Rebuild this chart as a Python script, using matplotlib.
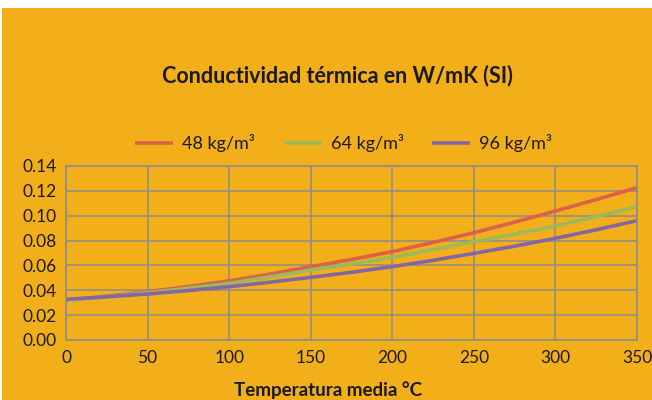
import matplotlib.pyplot as plt
from matplotlib.patches import Rectangle

# Thermal conductivity (W/mK) vs mean temperature, by density
temperatura = [0, 25, 50, 75, 100, 125, 150, 175, 200, 225, 250, 275, 300, 325, 350]
k_48 = [0.0320, 0.0352, 0.0389, 0.0430, 0.0475, 0.0530, 0.0590, 0.0648, 0.0711,
        0.0785, 0.0863, 0.0948, 0.1038, 0.1130, 0.1226]
k_64 = [0.0316, 0.0348, 0.0380, 0.0416, 0.0456, 0.0507, 0.0563, 0.0612, 0.0665,
        0.0726, 0.0791, 0.0852, 0.0917, 0.0993, 0.1073]
k_96 = [0.0327, 0.0348, 0.0370, 0.0398, 0.0429, 0.0465, 0.0504, 0.0545, 0.0590,
        0.0641, 0.0697, 0.0755, 0.0818, 0.0887, 0.0960]
series = ["48 kg/m³", "64 kg/m³", "96 kg/m³"]
colores = ["#DB6149", "#9BBB59", "#8466A8"]

x_ticks = [0, 50, 100, 150, 200, 250, 300, 350]
y_ticks = [0.00, 0.02, 0.04, 0.06, 0.08, 0.10, 0.12, 0.14]

bg = "#F2AF1A"
font = ["Lato", "DejaVu Sans"]

fig = plt.figure(figsize=(6.52, 4.0), dpi=100)
fig.patch.set_facecolor("white")
fig.patches.append(Rectangle((2 / 652, 0), 650 / 652, 392 / 400,
                             transform=fig.transFigure, facecolor=bg,
                             edgecolor="none", zorder=-10))

ax = fig.add_axes([66 / 652, 60 / 400, 571 / 652, 174 / 400])
ax.set_facecolor("none")

for vals, name, c in zip([k_48, k_64, k_96], series, colores):
    ax.plot(temperatura, vals, color=c, lw=2.6, label=name, solid_capstyle="butt")

ax.set_xlim(0, 350)
ax.set_ylim(0, 0.14)
ax.set_xticks(x_ticks)
ax.set_yticks(y_ticks)
ax.set_yticklabels([f"{v:.2f}" for v in y_ticks])
ax.grid(True, color="#8C8C8C", lw=1.1)
ax.set_axisbelow(True)
for s in ax.spines.values():
    s.set_color("#8C8C8C")
    s.set_linewidth(1.1)
ax.tick_params(length=0, labelsize=12.5, colors="#1A1A1A", pad=7)
for lab in ax.get_xticklabels() + ax.get_yticklabels():
    lab.set_family(font)

fig.text(328 / 652, 10 / 400, "Temperatura media °C", ha="center", va="center",
         fontsize=13.5, fontweight="bold", family=font, color="#1A1A1A")

fig.text(0.517, 0.812, "Conductividad térmica en W/mK (SI)", ha="center",
         va="center", fontsize=15.5, fontweight="bold", family=font, color="#1A1A1A")

leg = fig.legend(loc="center", bbox_to_anchor=(0.527, 0.642), ncol=3, frameon=False,
                 prop={"family": font, "size": 13}, handlelength=2.1,
                 columnspacing=1.6, handletextpad=0.5)
for t in leg.get_texts():
    t.set_color("#1A1A1A")

fig.savefig("out.png", dpi=100, facecolor=fig.get_facecolor())
